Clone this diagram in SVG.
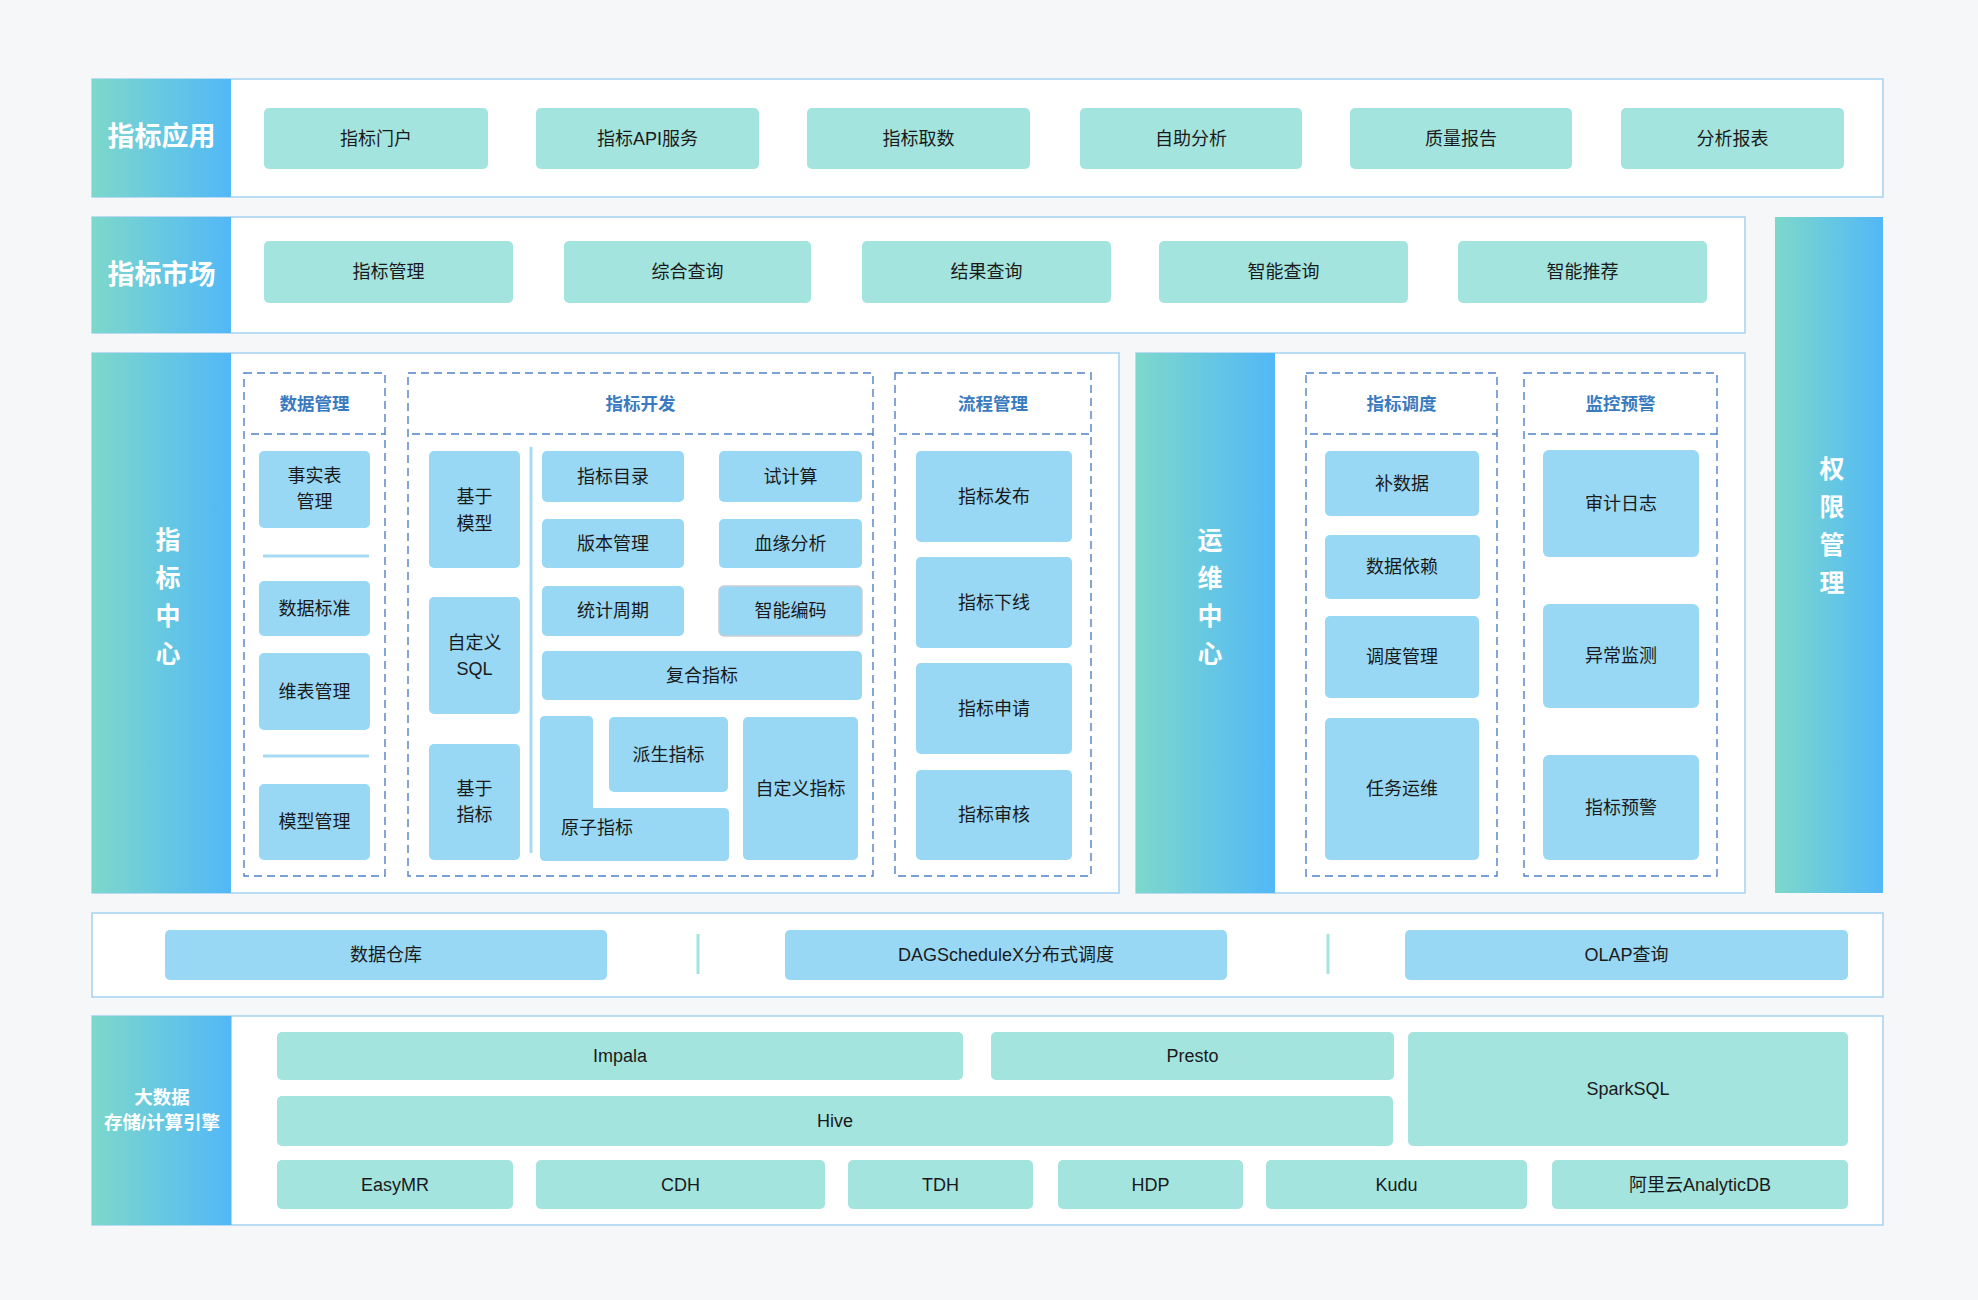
<svg xmlns="http://www.w3.org/2000/svg" width="1978" height="1300" viewBox="0 0 1978 1300">
<defs>
<linearGradient id="lab" x1="0" y1="0" x2="1" y2="0">
<stop offset="0" stop-color="#7dd8cb"/>
<stop offset="1" stop-color="#52b8f7"/>
</linearGradient>
<style>
.outer{fill:#ffffff;stroke:#a5d2f1;stroke-width:1.5}
.lab{fill:url(#lab)}
.dash{fill:none;stroke:#5081c6;stroke-width:1.4;stroke-dasharray:8 5}
.t{fill:#a4e4de}
.b{fill:#98d8f4}
.sep{stroke:#a8dbf3;stroke-width:3}
.sep2{stroke:#a4e4de;stroke-width:3}
text{font-family:"Liberation Sans","Noto Sans CJK SC",sans-serif;text-anchor:middle;dominant-baseline:central}
.n{font-size:18px;fill:#1a1a1a}
.h{font-size:17.5px;font-weight:bold;fill:#3a7bbf}
.L{font-size:27px;font-weight:bold;fill:#ffffff}
.V{font-size:25px;font-weight:bold;fill:#ffffff}
.S{font-size:18.5px;font-weight:bold;fill:#ffffff}
</style>
</defs>
<rect x="0" y="0" width="1978" height="1300" fill="#f6f7f9"/>

<g id="layer-app">
<rect class="outer" x="92" y="79" width="1791" height="118"/>
<rect class="lab" x="92" y="79" width="139" height="118"/>
<text class="L" x="161.5" y="137">指标应用</text>
</g>
<g id="n-portal"><rect class="t" x="264" y="108" width="224" height="61" rx="5"/><text class="n" x="376" y="138.5">指标门户</text></g>
<g id="n-api"><rect class="t" x="536" y="108" width="223" height="61" rx="5"/><text class="n" x="647.5" y="138.5">指标API服务</text></g>
<g id="n-fetch"><rect class="t" x="807" y="108" width="223" height="61" rx="5"/><text class="n" x="918.5" y="138.5">指标取数</text></g>
<g id="n-self"><rect class="t" x="1080" y="108" width="222" height="61" rx="5"/><text class="n" x="1191" y="138.5">自助分析</text></g>
<g id="n-quality"><rect class="t" x="1350" y="108" width="222" height="61" rx="5"/><text class="n" x="1461" y="138.5">质量报告</text></g>
<g id="n-report"><rect class="t" x="1621" y="108" width="223" height="61" rx="5"/><text class="n" x="1732.5" y="138.5">分析报表</text></g>

<g id="layer-market">
<rect class="outer" x="92" y="217" width="1653" height="116"/>
<rect class="lab" x="92" y="217" width="139" height="116"/>
<text class="L" x="161.5" y="275">指标市场</text>
</g>
<g id="n-mgmt"><rect class="t" x="264" y="241" width="249" height="62" rx="5"/><text class="n" x="388.5" y="272">指标管理</text></g>
<g id="n-query"><rect class="t" x="564" y="241" width="247" height="62" rx="5"/><text class="n" x="687.5" y="272">综合查询</text></g>
<g id="n-result"><rect class="t" x="862" y="241" width="249" height="62" rx="5"/><text class="n" x="986.5" y="272">结果查询</text></g>
<g id="n-smartq"><rect class="t" x="1159" y="241" width="249" height="62" rx="5"/><text class="n" x="1283.5" y="272">智能查询</text></g>
<g id="n-smartr"><rect class="t" x="1458" y="241" width="249" height="62" rx="5"/><text class="n" x="1582.5" y="272">智能推荐</text></g>

<g id="layer-auth">
<rect class="lab" x="1775" y="217" width="108" height="676"/>
<text class="V" x="1832" y="469">权</text>
<text class="V" x="1832" y="507">限</text>
<text class="V" x="1832" y="545">管</text>
<text class="V" x="1832" y="583">理</text>
</g>

<g id="layer-center">
<rect class="outer" x="92" y="353" width="1027" height="540"/>
<rect class="lab" x="92" y="353" width="139" height="540"/>
<text class="V" x="168" y="540">指</text>
<text class="V" x="168" y="578">标</text>
<text class="V" x="168" y="616">中</text>
<text class="V" x="168" y="654">心</text>
</g>

<g id="grp-data">
<rect class="dash" x="244" y="373" width="141" height="503"/>
<line class="dash" x1="251" y1="434" x2="385" y2="434"/>
<text class="h" x="314.5" y="404">数据管理</text>
<line class="sep" x1="263" y1="556" x2="369" y2="556" stroke-width="2.5"/>
<line class="sep" x1="263" y1="756" x2="369" y2="756" stroke-width="2.5"/>
</g>
<g id="n-fact"><rect class="b" x="259" y="451" width="111" height="77" rx="5"/><text class="n" x="314.5" y="476">事实表</text><text class="n" x="314.5" y="502">管理</text></g>
<g id="n-std"><rect class="b" x="259" y="581" width="111" height="55" rx="5"/><text class="n" x="314.5" y="608.5">数据标准</text></g>
<g id="n-dim"><rect class="b" x="259" y="653" width="111" height="77" rx="5"/><text class="n" x="314.5" y="691.5">维表管理</text></g>
<g id="n-model"><rect class="b" x="259" y="784" width="111" height="76" rx="5"/><text class="n" x="314.5" y="822">模型管理</text></g>

<g id="grp-dev">
<rect class="dash" x="408" y="373" width="465" height="503"/>
<line class="dash" x1="412" y1="434" x2="873" y2="434"/>
<text class="h" x="640.5" y="404">指标开发</text>
<line class="sep" x1="531" y1="447" x2="531" y2="853"/>
</g>
<g id="n-bmodel"><rect class="b" x="429" y="451" width="91" height="117" rx="5"/><text class="n" x="474.5" y="497">基于</text><text class="n" x="474.5" y="524">模型</text></g>
<g id="n-sql"><rect class="b" x="429" y="597" width="91" height="117" rx="5"/><text class="n" x="474.5" y="643">自定义</text><text class="n" x="474.5" y="669">SQL</text></g>
<g id="n-bind"><rect class="b" x="429" y="744" width="91" height="116" rx="5"/><text class="n" x="474.5" y="789">基于</text><text class="n" x="474.5" y="815">指标</text></g>
<g id="n-catalog"><rect class="b" x="542" y="451" width="142" height="51" rx="5"/><text class="n" x="613" y="476.5">指标目录</text></g>
<g id="n-trial"><rect class="b" x="719" y="451" width="143" height="51" rx="5"/><text class="n" x="790.5" y="476.5">试计算</text></g>
<g id="n-version"><rect class="b" x="542" y="519" width="142" height="49" rx="5"/><text class="n" x="613" y="543.5">版本管理</text></g>
<g id="n-lineage"><rect class="b" x="719" y="519" width="143" height="49" rx="5"/><text class="n" x="790.5" y="543.5">血缘分析</text></g>
<g id="n-period"><rect class="b" x="542" y="586" width="142" height="50" rx="5"/><text class="n" x="613" y="611">统计周期</text></g>
<g id="n-code"><rect class="b" x="719" y="586" width="143" height="50" rx="5" stroke="#c9ced3" stroke-width="1.5"/><text class="n" x="790.5" y="611">智能编码</text></g>
<g id="n-composite"><rect class="b" x="542" y="651" width="320" height="49" rx="5"/><text class="n" x="702" y="675.5">复合指标</text></g>
<g id="n-atomic"><path class="b" d="M545 716 H588 Q593 716 593 721 V808 H724 Q729 808 729 813 V856 Q729 861 724 861 H545 Q540 861 540 856 V721 Q540 716 545 716 Z"/><text class="n" x="597" y="827.5">原子指标</text></g>
<g id="n-derived"><rect class="b" x="609" y="717" width="119" height="75" rx="5"/><text class="n" x="668.5" y="755">派生指标</text></g>
<g id="n-custom"><rect class="b" x="743" y="717" width="115" height="143" rx="5"/><text class="n" x="800.5" y="789">自定义指标</text></g>

<g id="grp-flow">
<rect class="dash" x="895" y="373" width="196" height="503"/>
<line class="dash" x1="899" y1="434" x2="1091" y2="434"/>
<text class="h" x="993" y="404">流程管理</text>
</g>
<g id="n-publish"><rect class="b" x="916" y="451" width="156" height="91" rx="5"/><text class="n" x="994" y="496.5">指标发布</text></g>
<g id="n-offline"><rect class="b" x="916" y="557" width="156" height="91" rx="5"/><text class="n" x="994" y="602.5">指标下线</text></g>
<g id="n-apply"><rect class="b" x="916" y="663" width="156" height="91" rx="5"/><text class="n" x="994" y="708.5">指标申请</text></g>
<g id="n-audit"><rect class="b" x="916" y="770" width="156" height="90" rx="5"/><text class="n" x="994" y="815">指标审核</text></g>

<g id="layer-ops">
<rect class="outer" x="1136" y="353" width="609" height="540"/>
<rect class="lab" x="1136" y="353" width="139" height="540"/>
<text class="V" x="1210" y="540">运</text>
<text class="V" x="1210" y="578">维</text>
<text class="V" x="1210" y="616">中</text>
<text class="V" x="1210" y="654">心</text>
</g>
<g id="grp-sched">
<rect class="dash" x="1306" y="373" width="191" height="503"/>
<line class="dash" x1="1310" y1="434" x2="1497" y2="434"/>
<text class="h" x="1401.5" y="404">指标调度</text>
</g>
<g id="n-backfill"><rect class="b" x="1325" y="451" width="154" height="65" rx="5"/><text class="n" x="1402" y="483.5">补数据</text></g>
<g id="n-dep"><rect class="b" x="1325" y="535" width="155" height="64" rx="5"/><text class="n" x="1402" y="567">数据依赖</text></g>
<g id="n-schedmgmt"><rect class="b" x="1325" y="616" width="154" height="82" rx="5"/><text class="n" x="1402" y="657">调度管理</text></g>
<g id="n-taskops"><rect class="b" x="1325" y="718" width="154" height="142" rx="5"/><text class="n" x="1402" y="789">任务运维</text></g>

<g id="grp-monitor">
<rect class="dash" x="1524" y="373" width="193" height="503"/>
<line class="dash" x1="1528" y1="434" x2="1717" y2="434"/>
<text class="h" x="1620.5" y="404">监控预警</text>
</g>
<g id="n-auditlog"><rect class="b" x="1543" y="450" width="156" height="107" rx="6"/><text class="n" x="1621" y="503.5">审计日志</text></g>
<g id="n-anomaly"><rect class="b" x="1543" y="604" width="156" height="104" rx="6"/><text class="n" x="1621" y="656">异常监测</text></g>
<g id="n-alert"><rect class="b" x="1543" y="755" width="156" height="105" rx="6"/><text class="n" x="1621" y="807.5">指标预警</text></g>

<g id="layer-base">
<rect class="outer" x="92" y="913" width="1791" height="84"/>
<line class="sep2" x1="698" y1="934" x2="698" y2="974"/>
<line class="sep2" x1="1328" y1="934" x2="1328" y2="974"/>
</g>
<g id="n-dw"><rect class="b" x="165" y="930" width="442" height="50" rx="5"/><text class="n" x="386" y="955">数据仓库</text></g>
<g id="n-dag"><rect class="b" x="785" y="930" width="442" height="50" rx="5"/><text class="n" x="1006" y="955">DAGScheduleX分布式调度</text></g>
<g id="n-olap"><rect class="b" x="1405" y="930" width="443" height="50" rx="5"/><text class="n" x="1626.5" y="955">OLAP查询</text></g>

<g id="layer-engine">
<rect class="outer" x="92" y="1016" width="1791" height="209"/>
<rect class="lab" x="92" y="1016" width="139.5" height="209"/>
<text class="S" x="162" y="1097">大数据</text>
<text class="S" x="162" y="1122">存储/计算引擎</text>
</g>
<g id="n-impala"><rect class="t" x="277" y="1032" width="686" height="48" rx="5"/><text class="n" x="620" y="1056">Impala</text></g>
<g id="n-presto"><rect class="t" x="991" y="1032" width="403" height="48" rx="5"/><text class="n" x="1192.5" y="1056">Presto</text></g>
<g id="n-spark"><rect class="t" x="1408" y="1032" width="440" height="114" rx="5"/><text class="n" x="1628" y="1089">SparkSQL</text></g>
<g id="n-hive"><rect class="t" x="277" y="1096" width="1116" height="50" rx="5"/><text class="n" x="835" y="1121">Hive</text></g>
<g id="n-emr"><rect class="t" x="277" y="1160" width="236" height="49" rx="5"/><text class="n" x="395" y="1184.5">EasyMR</text></g>
<g id="n-cdh"><rect class="t" x="536" y="1160" width="289" height="49" rx="5"/><text class="n" x="680.5" y="1184.5">CDH</text></g>
<g id="n-tdh"><rect class="t" x="848" y="1160" width="185" height="49" rx="5"/><text class="n" x="940.5" y="1184.5">TDH</text></g>
<g id="n-hdp"><rect class="t" x="1058" y="1160" width="185" height="49" rx="5"/><text class="n" x="1150.5" y="1184.5">HDP</text></g>
<g id="n-kudu"><rect class="t" x="1266" y="1160" width="261" height="49" rx="5"/><text class="n" x="1396.5" y="1184.5">Kudu</text></g>
<g id="n-adb"><rect class="t" x="1552" y="1160" width="296" height="49" rx="5"/><text class="n" x="1700" y="1184.5">阿里云AnalyticDB</text></g>

<g id="connectors"></g>
</svg>
